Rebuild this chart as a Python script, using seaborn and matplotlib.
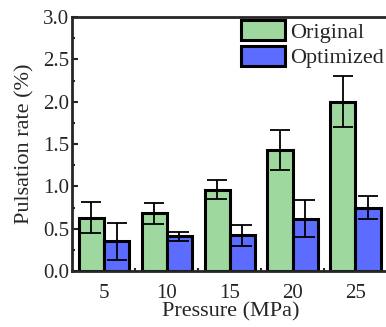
import numpy as np
import pandas as pd
import matplotlib
matplotlib.use('Agg')
import matplotlib.pyplot as plt
import seaborn as sns
from matplotlib.ticker import MultipleLocator, FixedLocator

pressure = ['5', '10', '15', '20', '25']
original = [0.63, 0.68, 0.96, 1.43, 2.00]
original_err = [0.18, 0.12, 0.11, 0.24, 0.30]
optimized = [0.35, 0.41, 0.42, 0.62, 0.75]
optimized_err = [0.22, 0.05, 0.12, 0.22, 0.13]
series = ['Original', 'Optimized']
colors = ['#9fd89f', '#5b6cff']

df = pd.DataFrame({
    'Pressure': pressure * 2,
    'Rate': original + optimized,
    'Err': original_err + optimized_err,
    'Series': [series[0]] * 5 + [series[1]] * 5,
})

sns.set_style('ticks')
plt.rcParams['font.family'] = ['Liberation Serif', 'DejaVu Serif']

fig = plt.figure(figsize=(3.86, 3.27), dpi=100)
ax = fig.add_axes([72 / 386, 56 / 327, 318 / 386, 254 / 327])

sns.barplot(data=df, x='Pressure', y='Rate', hue='Series', palette=colors,
            saturation=1, errorbar=None, width=0.8, edgecolor='black',
            linewidth=2.2, ax=ax)

# error bars at bar centres
for cont, s in zip(ax.containers, series):
    sub = df[df['Series'] == s]
    xs = [p.get_x() + p.get_width() / 2 for p in cont.patches]
    ax.errorbar(xs, sub['Rate'], yerr=sub['Err'], fmt='none', ecolor='black',
                elinewidth=1.3, capsize=7, capthick=1.3, zorder=5)

ax.set_xlim(-0.51, 4.55)
ax.set_ylim(0, 3.0)
ax.yaxis.set_major_locator(MultipleLocator(0.5))
ax.yaxis.set_minor_locator(MultipleLocator(0.25))
ax.yaxis.set_major_formatter(matplotlib.ticker.FormatStrFormatter('%.1f'))
ax.xaxis.set_minor_locator(FixedLocator([0.5, 1.5, 2.5, 3.5]))
ax.tick_params(axis='y', which='major', direction='in', length=4, width=1.5,
               labelsize=15, pad=2)
ax.tick_params(axis='y', which='minor', direction='in', length=2.5, width=1.5)
ax.tick_params(axis='x', which='major', length=0, labelsize=15, pad=9)
ax.tick_params(axis='x', which='minor', direction='in', length=2, width=1.5)

for sp in ax.spines.values():
    sp.set_linewidth(2)
ax.spines['right'].set_visible(False)

ax.set_xlabel('Pressure (MPa)', fontsize=16, labelpad=0)
ax.set_ylabel('Pulsation rate (%)', fontsize=16, labelpad=6)

leg = ax.legend(loc='upper right', bbox_to_anchor=(384 / 386, 1 - 20 / 327),
                bbox_transform=fig.transFigure, frameon=False,
                fontsize=16, handlelength=1.95, handleheight=1.0,
                handletextpad=0.25, labelspacing=0.15, borderaxespad=0.0,
                borderpad=0.0)
for h in leg.legend_handles:
    h.set_edgecolor('black')
    h.set_linewidth(2.2)

fig.savefig('out.png', dpi=100)
